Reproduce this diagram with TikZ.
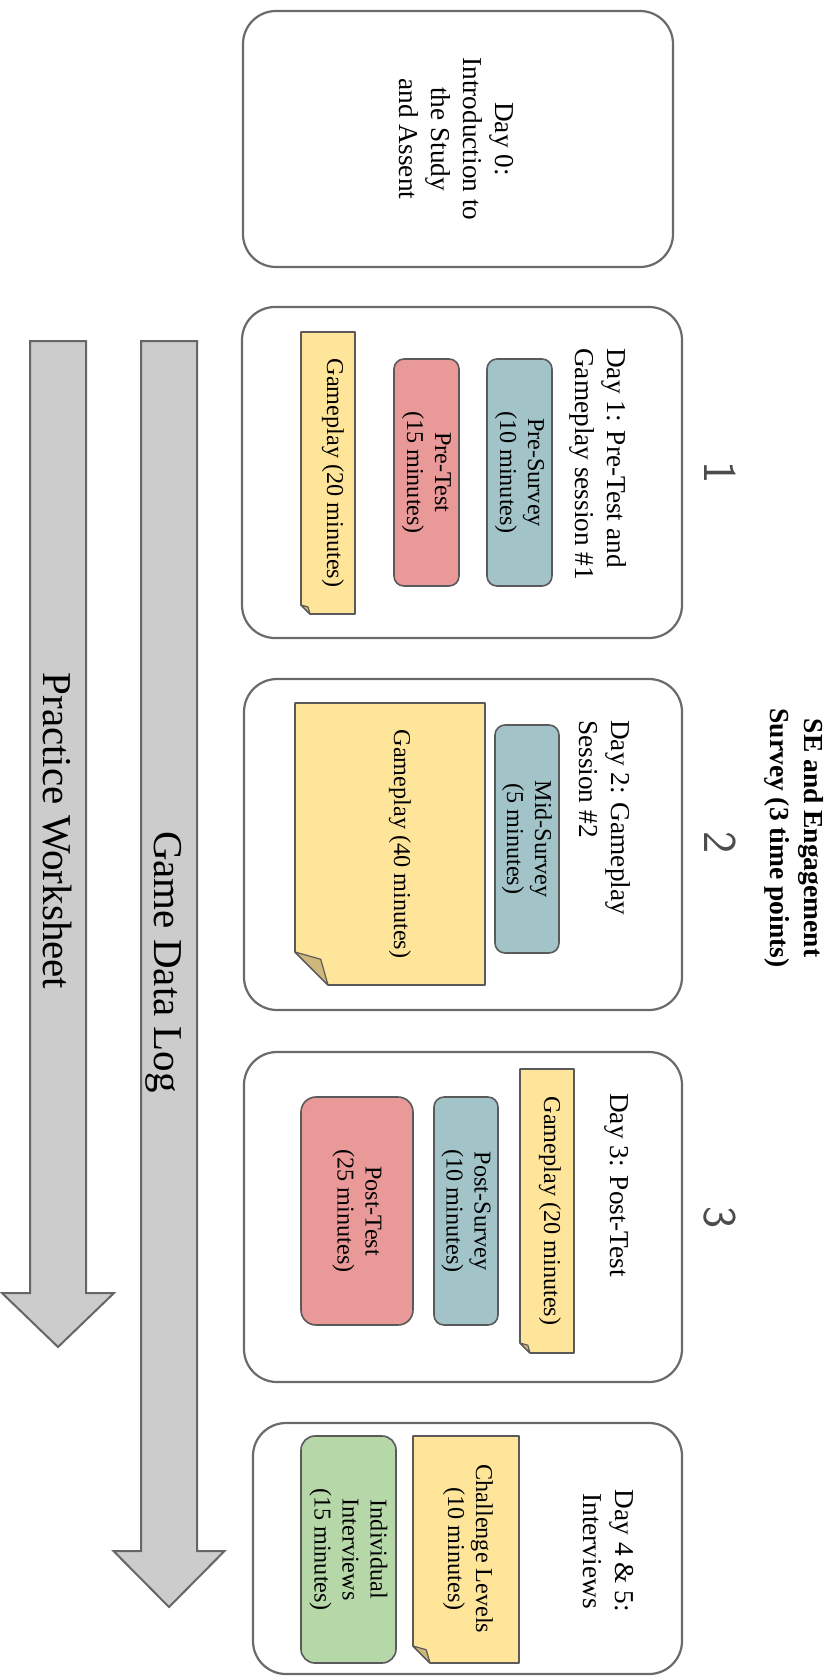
\documentclass[tikz,border=0pt]{standalone}
\usepackage{fontspec}
\setmainfont{Liberation Serif}
\usetikzlibrary{backgrounds}
\definecolor{boxline}{HTML}{6A6A6A}
\definecolor{innerline}{HTML}{5A5A5A}
\definecolor{surveyblue}{HTML}{A2C4C9}
\definecolor{testred}{HTML}{EA9999}
\definecolor{noteyellow}{HTML}{FFE599}
\definecolor{foldtan}{HTML}{CDB77A}
\definecolor{intgreen}{HTML}{B6D7A8}
\definecolor{arrowgray}{HTML}{CCCCCC}
\definecolor{arrowline}{HTML}{666666}
\newcommand\dgTitleFont{\fontsize{27.3}{32}\selectfont}
\newcommand\dgInnerFont{\fontsize{24.2}{28}\selectfont}
\newcommand\dgArrowFont{\fontsize{41}{48}\selectfont}
\newcommand\dgHeadFont{\bfseries\fontsize{27.5}{34}\selectfont}
\newcommand\dgDigitFont{\sffamily\fontsize{47}{54}\selectfont}
\newcommand\dgNote[4]{%
  \coordinate (#1nw) at #2;
  \coordinate (#1se) at #3;
  \coordinate (#1sw) at (#1nw |- #1se);
  \filldraw[notestyle] (#1nw) -| (#1se) -- ([xshift=#4]#1sw) -- ([yshift=#4]#1sw) -- cycle;
  \filldraw[foldstyle] ([xshift=#4]#1sw) -- ([xshift=0.78*#4,yshift=0.78*#4]#1sw) -- ([yshift=#4]#1sw) -- cycle;}
\begin{document}
\begin{tikzpicture}[x=1pt,y=-1pt,
  daybox/.style={draw=boxline, line width=2.2pt, rounded corners=33pt, inner sep=0pt},
  titletext/.style={rotate=-90, inner sep=0pt, font=\dgTitleFont},
  innerbox/.style={rotate=-90, draw=innerline, line width=1.6pt, rounded corners=10pt,
     inner sep=0pt, align=center, font=\dgInnerFont},
  surveybox/.style={innerbox, fill=surveyblue},
  testbox/.style={innerbox, fill=testred},
  intbox/.style={innerbox, fill=intgreen},
  notelabel/.style={rotate=-90, inner sep=0pt, align=center, font=\dgInnerFont},
  notestyle/.style={fill=noteyellow, draw=innerline, line width=1.6pt, line join=round},
  foldstyle/.style={fill=foldtan, draw=innerline, line width=1.2pt, line join=round},
  bigarrow/.style={fill=arrowgray, draw=arrowline, line width=2pt, line join=miter},
  arrowlabel/.style={rotate=-90, inner sep=0pt, font=\dgArrowFont},
  digit/.style={rotate=-90, inner sep=0pt, font=\dgDigitFont, text=black!70}]
\useasboundingbox (0,0) rectangle (837,1676);

% background + sticky notes
\begin{scope}[on background layer]
  \fill[white] (0,0) rectangle (837,1676);
  \dgNote{nA}{(301,332)}{(355,614)}{9pt}
  \dgNote{nB}{(295,703)}{(485,985)}{33pt}
  \dgNote{nC}{(520,1069)}{(574,1353)}{10pt}
  \dgNote{nD}{(413,1436)}{(519,1663)}{17pt}
  % timeline arrows
  \coordinate (pwTop) at (58,341);
  \coordinate (pwTip) at (58,1347);
  \coordinate (glTop) at (169,341);
  \coordinate (glTip) at (169,1607);
  \filldraw[bigarrow] ([xshift=-28pt]pwTop) -- ([xshift=28pt]pwTop)
     -- ([xshift=28pt,yshift=54pt]pwTip) -- ([xshift=56pt,yshift=54pt]pwTip)
     -- (pwTip) -- ([xshift=-56pt,yshift=54pt]pwTip)
     -- ([xshift=-28pt,yshift=54pt]pwTip) -- cycle;
  \filldraw[bigarrow] ([xshift=-28pt]glTop) -- ([xshift=28pt]glTop)
     -- ([xshift=28pt,yshift=56pt]glTip) -- ([xshift=55.5pt,yshift=56pt]glTip)
     -- (glTip) -- ([xshift=-55.5pt,yshift=56pt]glTip)
     -- ([xshift=-28pt,yshift=56pt]glTip) -- cycle;
\end{scope}

% day boxes
\node[daybox, minimum width=430pt, minimum height=256pt] (day0) at (458,139) {};
\node[daybox, minimum width=440pt, minimum height=331pt] (day1) at (462,472.5) {};
\node[daybox, minimum width=438pt, minimum height=331pt] (day2) at (463,844.5) {};
\node[daybox, minimum width=438pt, minimum height=330pt] (day3) at (463,1217) {};
\node[daybox, minimum width=429pt, minimum height=251pt] (day4) at (467.5,1548.5) {};

% titles
\node[titletext, align=center] (t0) at (456,139) {Day 0:\\Introduction to\\the Study\\and Assent};
\node[titletext, align=left, anchor=north west] (t1) at (627,348) {Day 1: Pre-Test and\\Gameplay session \#1};
\node[titletext, align=left, anchor=north west] (t2) at (631,720) {Day 2: Gameplay\\Session \#2};
\node[titletext, align=left, anchor=north west] (t3) at (629,1093) {Day 3: Post-Test};
\node[titletext, align=center] (t4) at (608,1551) {Day 4 \& 5:\\Interviews};

% inner activity boxes
\node[surveybox, minimum width=227pt, minimum height=65pt] (preS) at (519.5,472.5) {Pre-Survey\\(10 minutes)};
\node[testbox, minimum width=227pt, minimum height=65pt] (preT) at (426.5,472.5) {Pre-Test\\(15 minutes)};
\node[notelabel] (g1) at (333,473) {Gameplay (20 minutes)};

\node[surveybox, minimum width=228pt, minimum height=64pt] (midS) at (527,839) {Mid-Survey\\(5 minutes)};
\node[notelabel] (g2) at (400,844) {Gameplay (40 minutes)};

\node[notelabel] (g3) at (550,1211) {Gameplay (20 minutes)};
\node[surveybox, minimum width=228pt, minimum height=64pt] (postS) at (466,1211) {Post-Survey\\(10 minutes)};
\node[testbox, minimum width=228pt, minimum height=112pt, rounded corners=15pt] (postT) at (357,1211) {Post-Test\\(25 minutes)};

\node[notelabel] (chal) at (468,1549) {Challenge Levels\\(10 minutes)};
\node[intbox, minimum width=227pt, minimum height=95pt, rounded corners=14pt] (indiv) at (348.5,1549.5) {Individual\\Interviews\\(15 minutes)};

% arrow labels
\node[arrowlabel] (pwLabel) at (57,831) {Practice Worksheet};
\node[arrowlabel] (glLabel) at (164,962) {Game Data Log};

% survey time points
\node[rotate=-90, inner sep=0pt, align=center, font=\dgHeadFont] (seHead) at (794,838) {SE and Engagement\\Survey (3 time points)};
\node[digit] (tp1) at (720,473) {1};
\node[digit] (tp2) at (720,843) {2};
\node[digit] (tp3) at (720,1218) {3};
\end{tikzpicture}
\end{document}
